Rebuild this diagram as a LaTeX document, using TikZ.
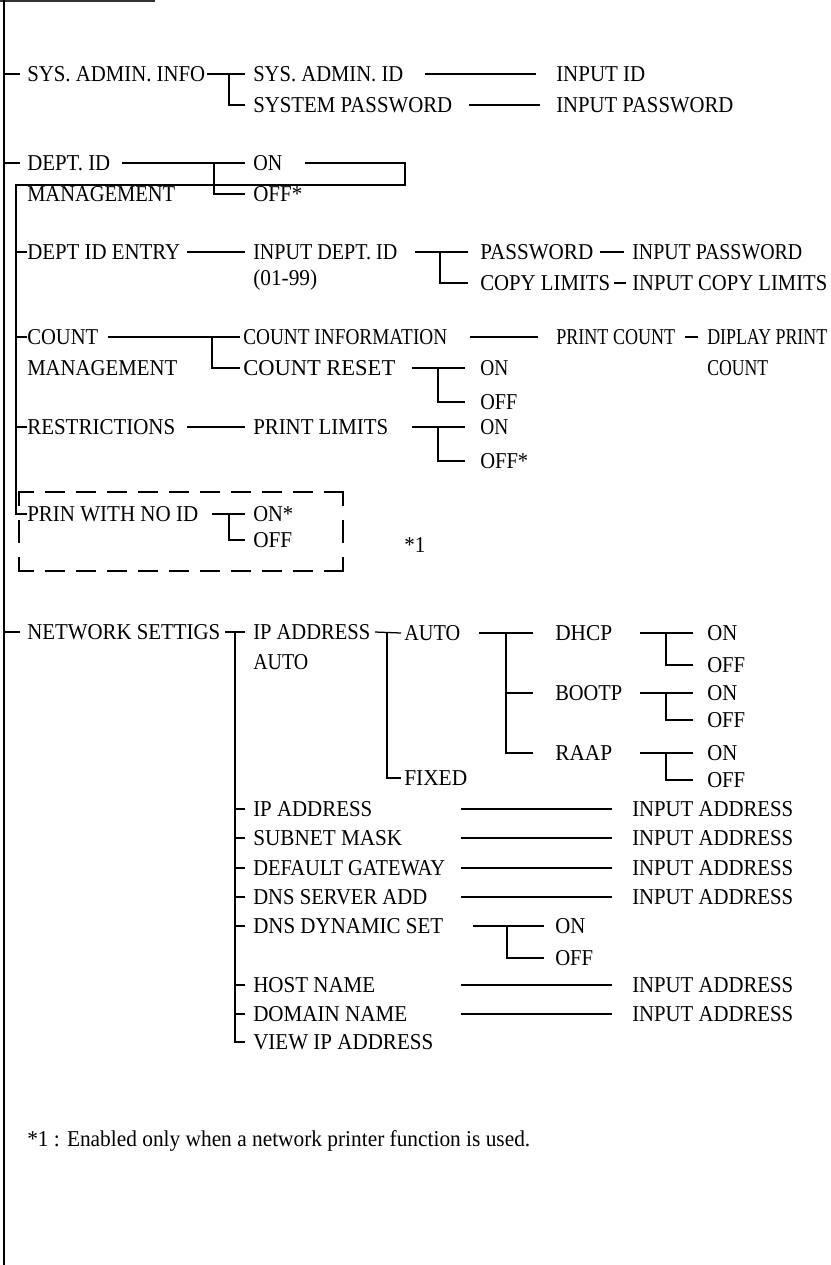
\documentclass[tikz,border=0pt]{standalone}
\usepackage{fontspec}
\setmainfont{Liberation Serif}
\newcommand\lw[2]{\resizebox{\dimexpr #1pt*3/4\relax}{\height}{#2}}
\begin{document}
\begin{tikzpicture}[x=0.75pt,y=-0.75pt,
  lbl/.style={inner sep=0pt,anchor=west,text height=11.25pt,text depth=0pt,font=\fontsize{17}{20}\selectfont},
  ln/.style={line width=0.95pt},
  dashh/.style={line width=2.2pt,dash pattern=on 13.5pt off 9.75pt,dash phase=3pt},
  dashv/.style={line width=2.2pt,dash pattern=on 9.75pt off 12pt on 15.75pt off 12pt on 12pt off 20pt}]
\useasboundingbox (0,0) rectangle (831,1265);
% spine
\coordinate (hdrL) at (0,1);
\coordinate (hdrR) at (155,1);
\coordinate (spT) at (4,0);
\coordinate (spB) at (4,1265);
\draw[line width=1.4pt,black!80] (hdrL) -- (hdrR);
\draw[ln] (spT) -- (spB);

% SYS ADMIN
\node[lbl] (sai) at (27,74) {\lw{178}{SYS. ADMIN. INFO}};
\node[lbl] (said) at (253,74) {\lw{150}{SYS. ADMIN. ID}};
\node[lbl] (sysp) at (253,105) {\lw{199}{SYSTEM PASSWORD}};
\node[lbl] (inid) at (556,74) {\lw{89}{INPUT ID}};
\node[lbl] (inpw) at (556,105) {\lw{177}{INPUT PASSWORD}};

% DEPT ID MANAGEMENT
\node[lbl] (did) at (27,163) {\lw{83}{DEPT. ID}};
\node[lbl] (dmg) at (27,194) {\lw{148}{MANAGEMENT}};
\node[lbl] (don) at (253,163) {\lw{29}{ON}};
\node[lbl] (doff) at (253,194) {\lw{49}{OFF*}};

% DEPT ID ENTRY
\node[lbl] (dent) at (27,252) {\lw{153}{DEPT ID ENTRY}};
\node[lbl] (indid) at (253,252) {\lw{144}{INPUT DEPT. ID}};
\node[lbl] (rng) at (253,278) {\lw{64}{(01-99)}};
\node[lbl] (pw) at (480,252) {\lw{113}{PASSWORD}};
\node[lbl] (inpw2) at (632,252) {\lw{170}{INPUT PASSWORD}};
\node[lbl] (cpl) at (480,283) {\lw{130}{COPY LIMITS}};
\node[lbl] (incpl) at (632,283) {\lw{195}{INPUT COPY LIMITS}};

% COUNT MANAGEMENT
\node[lbl] (cnt) at (27,337) {\lw{71}{COUNT}};
\node[lbl] (cmg) at (27,368) {\lw{150}{MANAGEMENT}};
\node[lbl] (cinfo) at (243,337) {\lw{204}{COUNT INFORMATION}};
\node[lbl] (creset) at (243,368) {\lw{152}{COUNT RESET}};
\node[lbl] (pcnt) at (556,337) {\lw{119}{PRINT COUNT}};
\node[lbl] (dpc) at (707,337) {\lw{120}{DIPLAY PRINT}};
\node[lbl] (dpc2) at (707,368) {\lw{61}{COUNT}};
\node[lbl] (con) at (480,368) {\lw{28}{ON}};
\node[lbl] (coff) at (480,402) {\lw{37}{OFF}};

% RESTRICTIONS
\node[lbl] (rst) at (27,427) {\lw{148}{RESTRICTIONS}};
\node[lbl] (plim) at (253,427) {\lw{135}{PRINT LIMITS}};
\node[lbl] (ron) at (480,427) {\lw{28}{ON}};
\node[lbl] (roff) at (480,461) {\lw{48}{OFF*}};

% PRIN WITH NO ID
\node[lbl] (prin) at (27,514) {\lw{171}{PRIN WITH NO ID}};
\node[lbl] (pon) at (253,514) {\lw{40}{ON*}};
\node[lbl] (poff) at (253,540) {\lw{39}{OFF}};
\node[lbl] (n1) at (404,545) {\lw{21}{*1}};

% NETWORK
\node[lbl] (net) at (27,632) {\lw{193}{NETWORK SETTIGS}};
\node[lbl] (ipa) at (253,632) {\lw{117}{IP ADDRESS}};
\node[lbl] (ipa2) at (253,662) {\lw{55}{AUTO}};
\node[lbl] (auto) at (404,633) {\lw{56}{AUTO}};
\node[lbl] (fixed) at (404,778) {\lw{63}{FIXED}};
\node[lbl] (dhcp) at (555,633) {\lw{57}{DHCP}};
\node[lbl] (bootp) at (555,693) {\lw{67}{BOOTP}};
\node[lbl] (raap) at (555,753) {\lw{57}{RAAP}};
\node[lbl] (on1) at (707,633) {\lw{30}{ON}};
\node[lbl] (off1) at (707,665) {\lw{38}{OFF}};
\node[lbl] (on2) at (707,693) {\lw{30}{ON}};
\node[lbl] (off2) at (707,720) {\lw{38}{OFF}};
\node[lbl] (on3) at (707,753) {\lw{30}{ON}};
\node[lbl] (off3) at (707,780) {\lw{38}{OFF}};

\node[lbl] (ip2) at (253,809) {\lw{119}{IP ADDRESS}};
\node[lbl] (snm) at (253,838) {\lw{149}{SUBNET MASK}};
\node[lbl] (dgw) at (253,868) {\lw{192}{DEFAULT GATEWAY}};
\node[lbl] (dns) at (253,897) {\lw{174}{DNS SERVER ADD}};
\node[lbl] (ddyn) at (253,926) {\lw{190}{DNS DYNAMIC SET}};
\node[lbl] (host) at (253,985) {\lw{122}{HOST NAME}};
\node[lbl] (dom) at (253,1014) {\lw{154}{DOMAIN NAME}};
\node[lbl] (vip) at (253,1042) {\lw{180}{VIEW IP ADDRESS}};

\node[lbl] (ia1) at (632,809) {\lw{161}{INPUT ADDRESS}};
\node[lbl] (ia2) at (632,838) {\lw{161}{INPUT ADDRESS}};
\node[lbl] (ia3) at (632,868) {\lw{161}{INPUT ADDRESS}};
\node[lbl] (ia4) at (632,897) {\lw{161}{INPUT ADDRESS}};
\node[lbl] (ia5) at (632,985) {\lw{161}{INPUT ADDRESS}};
\node[lbl] (ia6) at (632,1014) {\lw{161}{INPUT ADDRESS}};
\node[lbl] (don2) at (555,926) {\lw{30}{ON}};
\node[lbl] (doff2) at (555,958) {\lw{38}{OFF}};

\node[lbl] (fn) at (27,1139) {\lw{503}{*1 : Enabled only when a network printer function is used.}};

% ---- connectors ----
\draw[ln] (sai.west -| spT) -- (sai.west -| 20,0);
\draw[ln] (did.west -| spT) -- (did.west -| 20,0);
\draw[ln] (net.west -| spT) -- (net.west -| 20,0);

\draw[ln] (sai.east -| 207,0) -- (said.west -| 245,0);
\draw[ln] (said.west -| 229,0) |- (sysp.west -| 245,0);
\draw[ln] (said.east -| 425,0) -- (inid.west -| 536,0);
\draw[ln] (sysp.east -| 469,0) -- (inpw.west -| 540,0);

\draw[ln] (did.east -| 122,0) -- (don.west -| 245,0);
\draw[ln] (don.west -| 214,0) |- (doff.west -| 245,0);
\coordinate (boxR) at (405,185);
\coordinate (sub) at (16,185);
\draw[ln] (don.east -| 305,0) -| (boxR) -- (sub) |- (prin.west);
\draw[ln] (dent.west -| sub) -- (dent.west);
\draw[ln] (cnt.west -| sub) -- (cnt.west);
\draw[ln] (rst.west -| sub) -- (rst.west);

\draw[ln] (dent.east -| 187,0) -- (indid.west -| 245,0);
\draw[ln] (indid.east -| 415,0) -- (pw.west -| 468,0);
\draw[ln] (pw.west -| 440,0) |- (cpl.west -| 468,0);
\draw[ln] (pw.east -| 600,0) -- (inpw2.west -| 624,0);
\draw[ln] (cpl.east -| 614,0) -- (incpl.west -| 626,0);

\draw[ln] (cnt.east -| 108,0) -- (cinfo.west -| 240,0);
\draw[ln] (cinfo.west -| 212,0) |- (creset.west -| 240,0);
\draw[ln] (cinfo.east -| 470,0) -- (pcnt.west -| 538,0);
\draw[ln] (pcnt.east -| 685,0) -- (dpc.west -| 698,0);
\draw[ln] (creset.east -| 412,0) -- (con.west -| 465,0);
\draw[ln] (con.west -| 438,0) |- (coff.west -| 465,0);

\draw[ln] (rst.east -| 187,0) -- (plim.west -| 245,0);
\draw[ln] (plim.east -| 412,0) -- (ron.west -| 465,0);
\draw[ln] (ron.west -| 438,0) |- (roff.west -| 465,0);

\draw[ln] (prin.east -| 212,0) -- (pon.west -| 245,0);
\draw[ln] (pon.west -| 229,0) |- (poff.west -| 245,0);
% dashed frame
\coordinate (bxTL) at (19,492);
\coordinate (bxTR) at (343,492);
\coordinate (bxBL) at (19,571);
\coordinate (bxBR) at (343,571);
\draw[dashh,line cap=rect] (bxTL) -- (bxTR);
\draw[dashh,line cap=rect] (bxBL) -- (bxBR);
\draw[dashv,line cap=rect] (bxTL) -- (bxBL);
\draw[dashv,line cap=rect] (bxTR) -- (bxBR);

\draw[ln] (net.east -| 225,0) -- (ipa.west -| 245,0);
\draw[ln] (ipa.west -| 235,0) |- (vip.west -| 245,0);
\foreach \n in {ip2,snm,dgw,dns,ddyn,host,dom}
  \draw[ln] (\n.west -| 235,0) -- (\n.west -| 245,0);
\draw[ln] (ipa.east -| 375,0) -- (auto.west -| 401,0);
\draw[ln] (auto.west -| 387,0) |- (fixed.west -| 401,0);
\draw[ln] (auto.east -| 479,0) -- (dhcp.west -| 533,0);
\draw[ln] (dhcp.west -| 506,0) |- (raap.west -| 533,0);
\draw[ln] (bootp.west -| 506,0) -- (bootp.west -| 533,0);
\draw[ln] (dhcp.east -| 640,0) -- (on1.west -| 693,0);
\draw[ln] (on1.west -| 666,0) |- (off1.west -| 693,0);
\draw[ln] (bootp.east -| 640,0) -- (on2.west -| 693,0);
\draw[ln] (on2.west -| 666,0) |- (off2.west -| 693,0);
\draw[ln] (raap.east -| 640,0) -- (on3.west -| 693,0);
\draw[ln] (on3.west -| 666,0) |- (off3.west -| 693,0);

\draw[ln] (ip2.east -| 461,0) -- (ia1.west -| 612,0);
\draw[ln] (snm.east -| 461,0) -- (ia2.west -| 612,0);
\draw[ln] (dgw.east -| 461,0) -- (ia3.west -| 612,0);
\draw[ln] (dns.east -| 461,0) -- (ia4.west -| 612,0);
\draw[ln] (host.east -| 461,0) -- (ia5.west -| 612,0);
\draw[ln] (dom.east -| 461,0) -- (ia6.west -| 612,0);
\draw[ln] (ddyn.east -| 473,0) -- (don2.west -| 544,0);
\draw[ln] (don2.west -| 507,0) |- (doff2.west -| 544,0);
\end{tikzpicture}
\end{document}
